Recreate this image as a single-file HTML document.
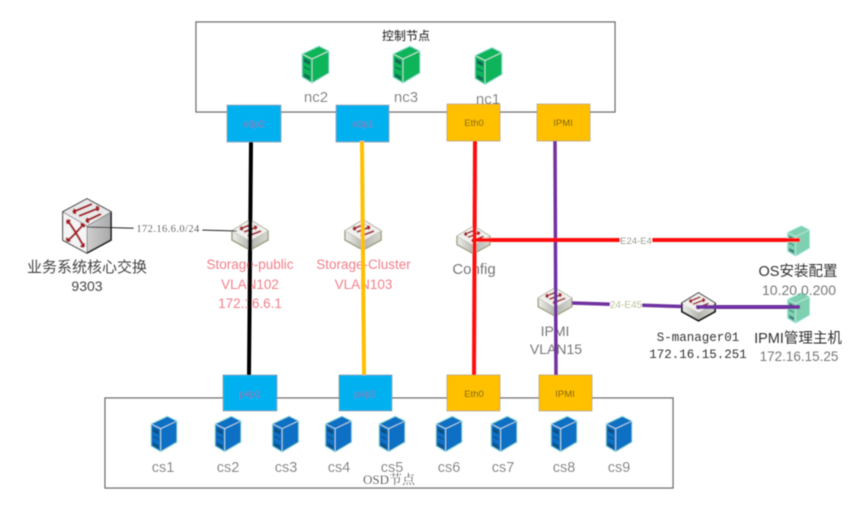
<!DOCTYPE html>
<html><head><meta charset="utf-8"><style>
html,body{margin:0;padding:0;background:#fff}
svg{display:block}
text{font-family:"Liberation Sans","Noto Sans CJK SC",sans-serif;text-anchor:middle}
.g{fill:#777;font-size:15px}
.r{fill:#f0808c;font-size:13.500px}
.p{fill:#7a6aa8;font-size:9.500px}
.y{fill:#6b5a10;font-size:9.500px}
.m{font-family:"Liberation Mono","Noto Sans CJK SC",monospace;fill:#333}
.c{fill:#777;font-size:14.500px}
</style></head><body>
<svg width="865" height="508" viewBox="0 0 865 508" xmlns="http://www.w3.org/2000/svg">
<defs>
<filter id="b" x="-5%" y="-5%" width="110%" height="110%"><feGaussianBlur stdDeviation="0.45"/></filter>
<linearGradient id="sw" x1="0" y1="0" x2="1" y2="0"><stop offset="0" stop-color="#efefec"/><stop offset=".5" stop-color="#b5b5b0"/><stop offset="1" stop-color="#d8d8d2"/></linearGradient>
<linearGradient id="cb" x1="0" y1="0" x2="1" y2="0"><stop offset="0" stop-color="#f2f2f2"/><stop offset="1" stop-color="#a9a9a9"/></linearGradient>
<symbol id="srv" viewBox="0 0 27 37" overflow="visible">
<polygon points="0,8 17,0 27,5 27,27 10,37 0,31" fill="currentColor" stroke="#8fe0d8" stroke-width="1"/>
<path d="M0,8 L10,13 L27,5 M10,13 L10,37" fill="none" stroke="#d8f4f0" stroke-width=".7"/>
<polygon points="2,12 8,15 8,19 2,16" fill="#123a50" opacity=".6"/>
<line x1="2" y1="21" x2="8" y2="24" stroke="#0d3a50" stroke-width="1" opacity=".7"/>
<polygon points="2,27 8,30 8,34 2,31" fill="#123a50" opacity=".5"/>
</symbol>
<symbol id="sws" viewBox="0 0 36 30" overflow="visible">
<polygon points="0,11 18,0 36,11 36,20 18,30 0,20" fill="url(#sw)" stroke="#a6a68a" stroke-width="1.600"/>
<polygon points="0,11 18,0 36,11 18,21" fill="#f0f0ee"/>
<path d="M0,11 L18,21 L36,11" fill="none" stroke="#bcbcae" stroke-width=".7"/>
<g stroke="#a3202c" stroke-width="1.800" fill="none">
<path d="M8,9 L20,4 M8,9 l2,-2.500 M8,9 l3,1"/>
<path d="M12,12 L25,7 M25,7 l-3,-1 M25,7 l-2,2.500"/>
<path d="M16,16 L29,11 M16,16 l2,-2.500 M16,16 l3,1"/>
</g>
</symbol>
<symbol id="swk" viewBox="0 0 36 30" overflow="visible">
<polygon points="0,11 18,0 36,11 36,20 18,30 0,20" fill="url(#sw)" stroke="#111" stroke-width="2"/>
<polygon points="0,11 18,0 36,11 18,21" fill="#f0f0ee"/>
<g stroke="#a3202c" stroke-width="1.800" fill="none">
<path d="M8,9 L20,4 M8,9 l2,-2.500 M8,9 l3,1"/>
<path d="M12,12 L25,7 M25,7 l-3,-1 M25,7 l-2,2.500"/>
<path d="M16,16 L29,11 M16,16 l2,-2.500 M16,16 l3,1"/>
</g>
</symbol>
</defs>
<rect width="865" height="508" fill="#fff"/>
<g filter="url(#b)">
<rect x="196" y="22" width="419" height="90" fill="#fff" stroke="#666" stroke-width="1.300"/>
<rect x="105" y="398" width="568" height="90" fill="#fff" stroke="#666" stroke-width="1.300"/>

<g color="#0cb45a">
<use href="#srv" x="302" y="46" width="27" height="37"/>
<use href="#srv" x="393" y="46" width="27" height="37"/>
<use href="#srv" x="475" y="47" width="27" height="38"/>
</g>
<g color="#0b6fc4">
<use href="#srv" x="151" y="416" width="26" height="36"/>
<use href="#srv" x="215" y="416" width="26" height="36"/>
<use href="#srv" x="272" y="416" width="27" height="36"/>
<use href="#srv" x="325" y="416" width="27" height="36"/>
<use href="#srv" x="379" y="416" width="26" height="36"/>
<use href="#srv" x="436" y="416" width="26" height="36"/>
<use href="#srv" x="491" y="416" width="26" height="36"/>
<use href="#srv" x="551" y="416" width="26" height="36"/>
<use href="#srv" x="606" y="416" width="26" height="36"/>
</g>
<g color="#7fd0b0">
<use href="#srv" x="787" y="226" width="23" height="30"/>
<use href="#srv" x="787" y="293" width="23" height="30"/>
</g>

<g stroke="#7f97a3" stroke-width=".7">
<rect x="227" y="105" width="54" height="37" fill="#00b0ef"/>
<rect x="336" y="105" width="53" height="37" fill="#00b0ef"/>
<rect x="223" y="375" width="54" height="36" fill="#00b0ef"/>
<rect x="339" y="375" width="53" height="36" fill="#00b0ef"/>
</g>
<g stroke="#a79a6a" stroke-width=".7" fill="#ffc000">
<rect x="447" y="104" width="53" height="37"/>
<rect x="537" y="104" width="53" height="37"/>
<rect x="447" y="375" width="53" height="36"/>
<rect x="539" y="375" width="53" height="36"/>
</g>
<text class="p" x="254" y="127">e3p2</text>
<text class="p" x="363" y="127">e3p1</text>
<text class="y" x="474" y="126">Eth0</text>
<text class="y" x="563" y="126">IPMI</text>
<text class="p" x="250" y="397">p4p1</text>
<text class="p" x="365" y="397">p4p2</text>
<text class="y" x="474" y="397">Eth0</text>
<text class="y" x="565" y="397">IPMI</text>

<use href="#sws" x="232" y="220" width="36" height="30"/>
<use href="#sws" x="345" y="220" width="36" height="30"/>
<use href="#sws" x="457" y="226" width="33" height="28"/>
<use href="#sws" x="538" y="288" width="34" height="28"/>
<use href="#swk" x="682" y="293" width="33" height="28"/>

<g>
<polygon points="63,212 87,199 111,212 111,240 87,253 63,240" fill="url(#cb)" stroke="#111" stroke-width="1.600"/>
<polygon points="63,212 87,199 111,212 87,226" fill="#e9e9e9" stroke="#555" stroke-width=".6"/>
<polygon points="63,212 87,226 87,253 63,240" fill="#f4f4f4" stroke="#555" stroke-width=".6"/>
<g stroke="#a51c28" stroke-width="2.200" fill="none">
<path d="M73,212 L92,204 M73,212 l2,-3 M73,212 l3,1.500"/>
<path d="M79,216 L99,208 M99,208 l-3,-1.500 M99,208 l-2,3"/>
<path d="M86,221 L101,214 M86,221 l2,-3 M86,221 l3,1.500"/>
<path d="M67,220 C72,226 78,236 84,247 M67,220 l.5,4 M67,220 l3.500,1 M84,247 l-.5,-4 M84,247 l-3.500,-1"/>
<path d="M84,224 C78,230 72,238 67,241 M84,224 l-3.500,.5 M84,224 l0,3.500 M67,241 l3.500,-.5 M67,241 l0,-3.500"/>
</g>
</g>

<text x="406" y="40" style="font-size:12px;font-weight:bold;fill:#333">控制节点</text>
<text class="g" x="316" y="102">nc2</text>
<text class="g" x="406" y="102">nc3</text>
<text class="g" x="488" y="104">nc1</text>

<text class="r" x="250" y="269">Storage-public</text>
<text class="r" x="250" y="289">VLAN102</text>
<text class="r" x="250" y="308">172.16.6.1</text>
<text class="r" x="363.500" y="269">Storage-Cluster</text>
<text class="r" x="363.500" y="289">VLAN103</text>
<text x="87" y="272" style="font-size:15px;fill:#444">业务系统核心交换</text>
<text x="87" y="291" style="font-size:14px;fill:#444">9303</text>
<text class="g" x="474" y="274">Config</text>
<text class="g" x="555" y="336" style="font-size:14px">IPMI</text>
<text class="g" x="556" y="354" style="font-size:14px">VLAN15</text>
<text class="m" x="698" y="341" style="font-size:12.500px">S-manager01</text>
<text class="m" x="698" y="358" style="font-size:12.500px">172.16.15.251</text>
<text x="798" y="276" style="font-size:14.500px;fill:#333">OS安装配置</text>
<text class="g" x="799" y="295" style="font-size:14px">10.20.0.200</text>
<text x="798" y="343" style="font-size:14.500px;fill:#333">IPMI管理主机</text>
<text class="g" x="799" y="361" style="font-size:13.500px">172.16.15.25</text>

<text class="c" x="163" y="472">cs1</text>
<text class="c" x="228" y="472">cs2</text>
<text class="c" x="286" y="472">cs3</text>
<text class="c" x="339" y="472">cs4</text>
<text class="c" x="392" y="472">cs5</text>
<text class="c" x="449" y="472">cs6</text>
<text class="c" x="503" y="472">cs7</text>
<text class="c" x="564" y="472">cs8</text>
<text class="c" x="619" y="472">cs9</text>
<text x="389" y="484" style="font-size:13px;fill:#333;font-family:'Liberation Serif','Noto Serif CJK SC',serif">OSD节点</text>

<line x1="251" y1="142" x2="249" y2="375" stroke="#000" stroke-width="4"/>
<line x1="362" y1="141" x2="364" y2="375" stroke="#ffc000" stroke-width="4"/>
<line x1="475" y1="141" x2="474" y2="375" stroke="#ff0a0a" stroke-width="4"/>
<line x1="555" y1="141" x2="556" y2="375" stroke="#7030a0" stroke-width="3.500"/>
<line x1="473" y1="240" x2="800" y2="240" stroke="#ff0a0a" stroke-width="4"/>
<polyline points="572,303 682,306.500" fill="none" stroke="#7030a0" stroke-width="3.500"/>
<line x1="696" y1="307" x2="800" y2="307" stroke="#7030a0" stroke-width="4"/>
<polyline points="87,227 237,231" fill="none" stroke="#222" stroke-width="1"/>

<rect x="134" y="222" width="68" height="12" fill="#fff"/>
<text x="168" y="232" style="font-size:10.500px;fill:#333;font-family:'Liberation Serif',serif;letter-spacing:.4px">172.16.6.0/24</text>
<rect x="620" y="234" width="32" height="12" fill="#fff"/>
<text x="636" y="244" style="font-size:9.500px;fill:#8a8a80">E24-E4</text>
<rect x="610" y="298" width="32" height="12" fill="#fff"/>
<text x="626" y="308" style="font-size:10px;fill:#b9bb8a">24-E45</text>
</g>
</svg>
</body></html>
